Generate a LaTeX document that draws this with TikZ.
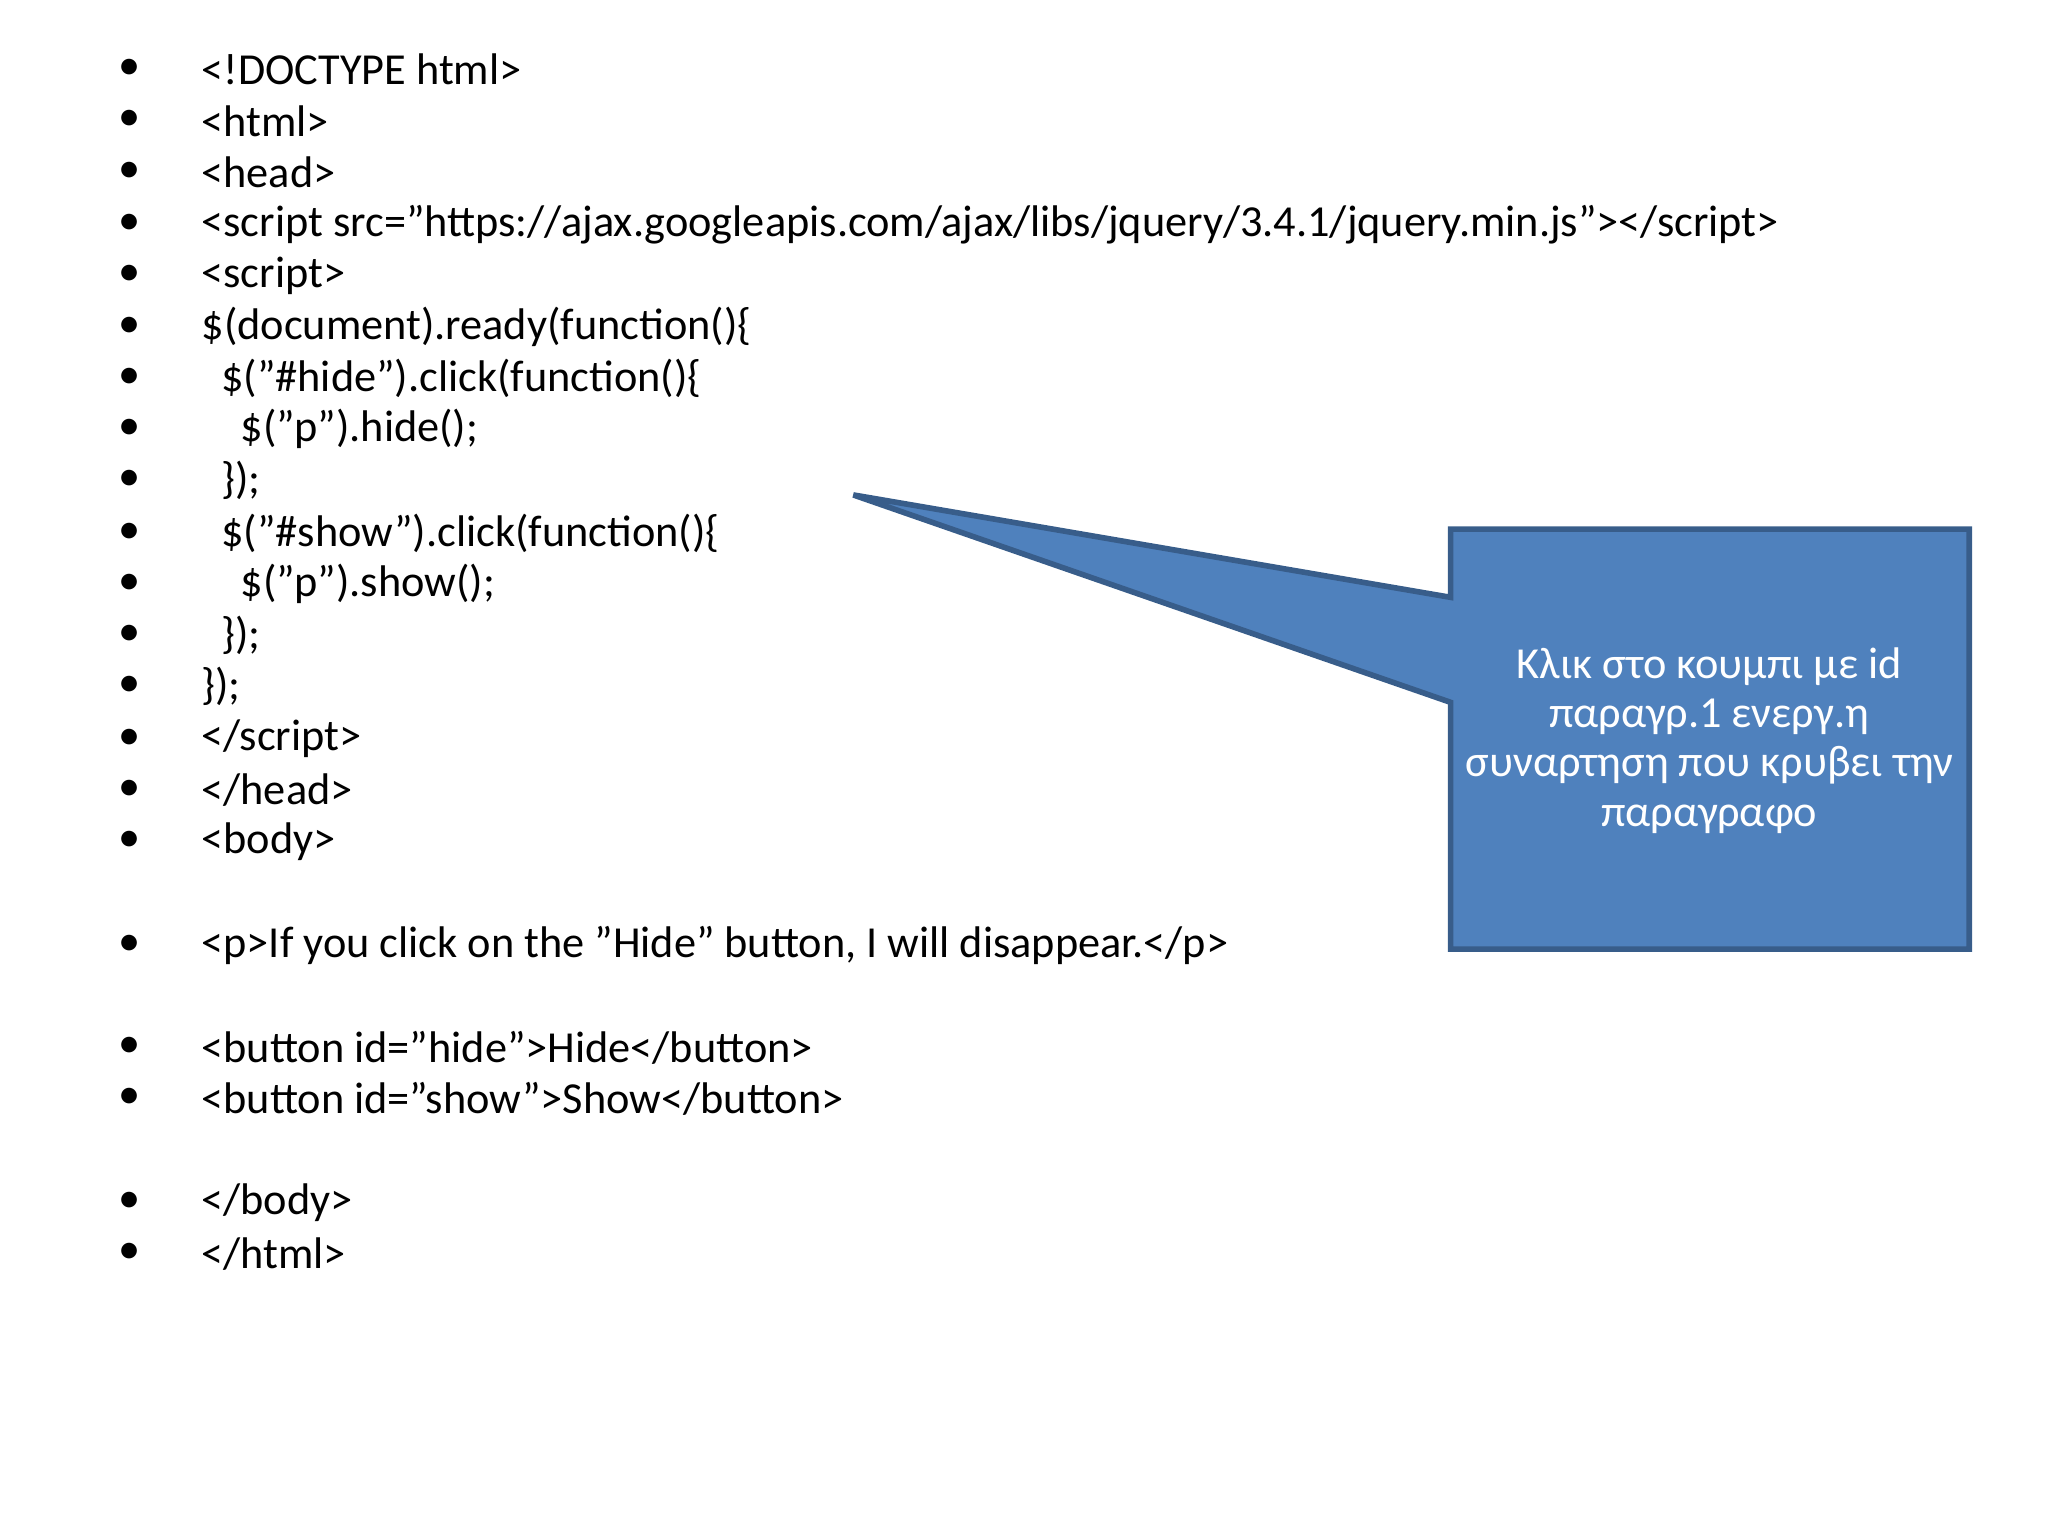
\documentclass[tikz,border=0pt]{standalone}
\usepackage{fontspec}
\setmainfont{Carlito}
\definecolor{cfill}{HTML}{4F81BD}
\definecolor{cline}{HTML}{385D8A}
\begin{document}
\begin{tikzpicture}[x=0.01313cm,y=-0.01313cm,
  code/.style={anchor=west,inner sep=0pt,font=\fontsize{12.6}{15}\selectfont},
  bul/.style={anchor=center,inner sep=0pt,font=\fontsize{12.6}{15}\selectfont}]
\useasboundingbox (0,0) rectangle (1560,1170);
\foreach \y/\x/\t [count=\i] in {
53/153/{<!DOCTYPE html>},
92/153/{<html>},
131/153/{<head>},
171/153/{<script src="https://ajax.googleapis.com/ajax/libs/jquery/3.4.1/jquery.min.js"></script>},
210/153/{<script>},
249/153/{\$(document).ready(function()\{},
288/168/{\$("\#hide").click(function()\{},
327/183/{\$("p").hide();},
366/168/{\});},
406/168/{\$("\#show").click(function()\{},
445/183/{\$("p").show();},
484/168/{\});},
523/153/{\});},
563/153/{</script>},
602/153/{</head>},
641/153/{<body>},
720/153/{<p>If you click on the "Hide" button, I will disappear.</p>},
798/153/{<button id="hide">Hide</button>},
837/153/{<button id="show">Show</button>},
916/153/{</body>},
955/153/{</html>}}
{
  \node[bul] (b\i) at (99,\y) {•};
  \node[code] (t\i) at (\x,\y) {\t};
}
\draw[fill=cfill,draw=cline,line width=1.6pt,line join=miter]
  (650,377) -- (1105,455) -- (1105,403) -- (1500,403) -- (1500,723)
  -- (1105,723) -- (1105,535) -- cycle;
\node[text=white,align=center,inner sep=0pt,font=\fontsize{12.6}{14}\selectfont] (callout) at (1302,564)
  {Κλικ στο κουμπι με id\\παραγρ.1 ενεργ.η\\συναρτηση που κρυβει την\\παραγραφο};
\end{tikzpicture}
\end{document}
